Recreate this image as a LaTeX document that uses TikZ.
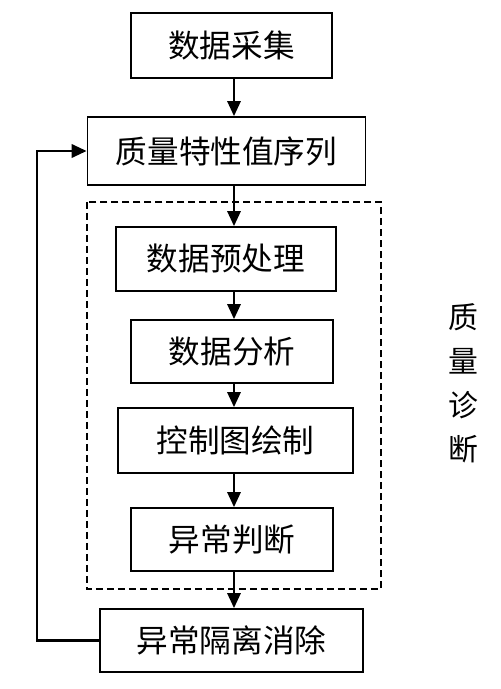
\documentclass[tikz,border=0pt]{standalone}
\usepackage{fontspec}
\newfontfamily\cjk{Noto Sans CJK SC}
\usetikzlibrary{positioning}
\usetikzlibrary{calc}
\usetikzlibrary{arrows.meta}

\tikzset{
  stepbox/.style={draw, line width=1.1pt, inner sep=0pt, font=\cjk\fontsize{18}{20}\selectfont},
  flow/.style={-{Triangle[length=0.3cm,width=0.27cm]}, line width=1pt},
}

\begin{document}
\begin{tikzpicture}[x=0.02cm, y=-0.02cm]
            \useasboundingbox (0,0) rectangle (500,689);
            \coordinate (ax) at (234,0);
            \coordinate (fb) at (37,400);
            \node[stepbox, minimum width=4.02cm, minimum height=1.30cm] (cj) at (231.5,45.5) {数据采集};
            \node[stepbox, minimum width=5.56cm, minimum height=1.36cm] (xl) at (226.5,151) {质量特性值序列};
            \node[stepbox, minimum width=4.40cm, minimum height=1.28cm] (yc) at (226,259) {数据预处理};
            \node[stepbox, minimum width=4.04cm, minimum height=1.26cm] (fx) at (232,351.5) {数据分析};
            \node[stepbox, minimum width=4.70cm, minimum height=1.30cm] (kz) at (235.5,440.5) {控制图绘制};
            \node[stepbox, minimum width=4.04cm, minimum height=1.26cm] (pd) at (232,539.5) {异常判断};
            \node[stepbox, minimum width=5.26cm, minimum height=1.26cm] (xc) at (231.5,640.5) {异常隔离消除};
            \draw[line width=1pt, dash pattern=on 0.14cm off 0.08cm] (87,202) rectangle (381,589);
            \node[align=center, font=\cjk\fontsize{17}{25}\selectfont] (zd) at (463,383) {质\\量\\诊\\断};
            \draw[flow] (cj.south -| ax) -- (xl.north -| ax);
            \draw[flow] (xl.south -| ax) -- (yc.north -| ax);
            \draw[flow] (yc.south -| ax) -- (fx.north -| ax);
            \draw[flow] (fx.south -| ax) -- (kz.north -| ax);
            \draw[flow] (kz.south -| ax) -- (pd.north -| ax);
            \draw[flow] (pd.south -| ax) -- (xc.north -| ax);
            \draw[flow, line width=1.3pt] (xc.west) -| (fb) |- (xl.west);
        \end{tikzpicture}
\end{document}
